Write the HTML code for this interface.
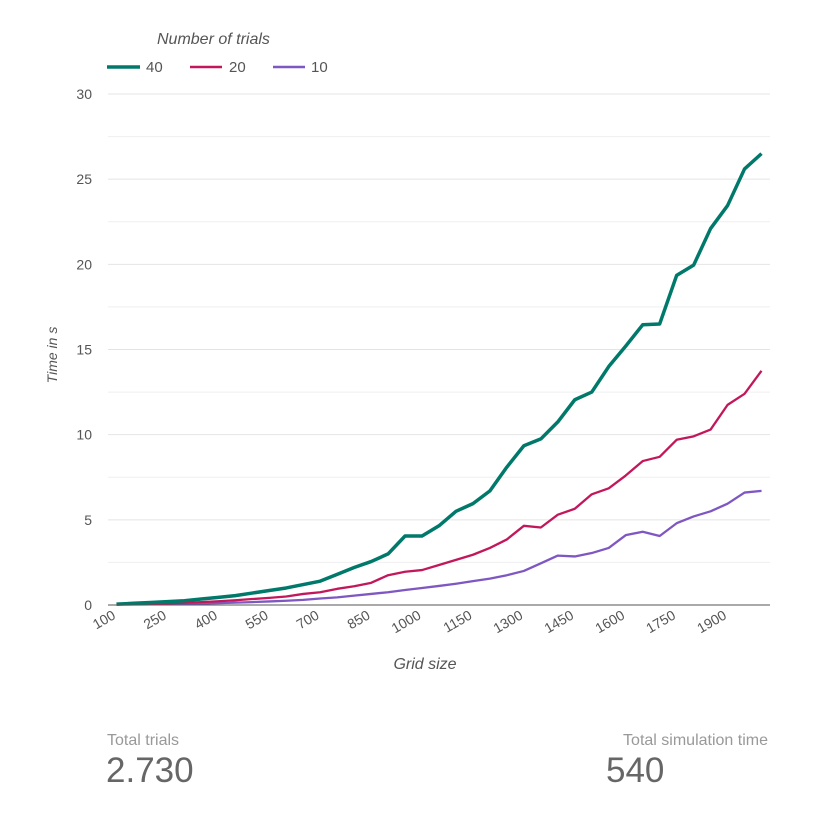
<!DOCTYPE html>
<html><head><meta charset="utf-8">
<style>
body{margin:0;background:#fff;font-family:"Liberation Sans",sans-serif;}
svg{display:block}
</style></head>
<body>
<svg id="chart" width="822" height="823" xmlns="http://www.w3.org/2000/svg">
<text x="157" y="44" font-size="16" font-style="italic" fill="#555">Number of trials</text>
<g><line x1="107" y1="67" x2="140" y2="67" stroke="#00796b" stroke-width="3.5"/><text x="146" y="72" font-size="15" fill="#555">40</text></g>
<g><line x1="190" y1="67" x2="222" y2="67" stroke="#c2185b" stroke-width="2.5"/><text x="229" y="72" font-size="15" fill="#555">20</text></g>
<g><line x1="273" y1="67" x2="305" y2="67" stroke="#7e57c2" stroke-width="2.5"/><text x="311" y="72" font-size="15" fill="#555">10</text></g>
<g id="grid"></g>
<g id="yticks"></g>
<g id="xticks"></g>
<g id="series"></g>
<line x1="108" y1="605" x2="770" y2="605" stroke="#555" stroke-width="1"/>
<text x="425" y="669" font-size="16" font-style="italic" fill="#555" text-anchor="middle">Grid size</text>
<text transform="translate(57,355) rotate(-90)" font-size="14" font-style="italic" fill="#555" text-anchor="middle">Time in s</text>
<text x="107" y="745" font-size="16" fill="#999">Total trials</text>
<text x="106" y="782" font-size="35" fill="#666">2.730</text>
<text x="768" y="745" font-size="16" fill="#999" text-anchor="end">Total simulation time</text>
<text x="606" y="782" font-size="35" fill="#666">540</text>
</svg>
<script>
const categories=[100,150,200,250,300,350,400,450,500,550,600,650,700,750,800,850,900,950,1000,1050,1100,1150,1200,1250,1300,1350,1400,1450,1500,1550,1600,1650,1700,1750,1800,1850,1900,1950,2000];
const series40=[0.05,0.1,0.15,0.2,0.25,0.35,0.45,0.55,0.7,0.85,1.0,1.2,1.4,1.8,2.2,2.55,3.0,4.05,4.05,4.65,5.5,5.95,6.7,8.1,9.35,9.75,10.75,12.05,12.5,14.0,15.2,16.45,16.5,19.35,19.95,22.1,23.45,25.6,26.5];
const series20=[0.03,0.05,0.08,0.1,0.13,0.17,0.22,0.28,0.35,0.42,0.5,0.65,0.75,0.95,1.1,1.3,1.75,1.95,2.05,2.35,2.65,2.95,3.35,3.85,4.65,4.55,5.3,5.65,6.5,6.85,7.6,8.45,8.7,9.7,9.9,10.3,11.75,12.4,13.75];
const series10=[0.02,0.03,0.04,0.05,0.07,0.09,0.11,0.14,0.17,0.21,0.25,0.3,0.38,0.45,0.55,0.65,0.75,0.88,1.0,1.12,1.25,1.4,1.55,1.75,2.0,2.45,2.9,2.85,3.05,3.35,4.1,4.3,4.05,4.8,5.2,5.5,5.95,6.6,6.7];
const yTicks=[0,5,10,15,20,25,30];
const yGrid=[2.5,5,7.5,10,12.5,15,17.5,20,22.5,25,27.5,30];
const xLabelEvery=3;
const NS="http://www.w3.org/2000/svg";
const X0=108,X1=770,Y0=605,Y1=94,YMAX=30;
const bw=(X1-X0)/categories.length;
function xs(i){return X0+bw*(i+0.5);}
function ys(v){return Y0-(v/YMAX)*(Y0-Y1);}
function mk(tag,attrs,parent){const e=document.createElementNS(NS,tag);for(const k in attrs)e.setAttribute(k,attrs[k]);parent.appendChild(e);return e;}
const grid=document.getElementById('grid');
yGrid.forEach(v=>{const l=mk('line',{x1:X0,x2:X1,y1:ys(v),y2:ys(v),stroke:(v%5===0)?'#e4e4e4':'#efefef','stroke-width':1},grid);

});
const yt=document.getElementById('yticks');
yTicks.forEach(v=>{const t=mk('text',{x:92,y:ys(v)+5,'font-size':14,fill:'#555','text-anchor':'end'},yt);t.textContent=v;

});
const xt=document.getElementById('xticks');
categories.forEach((c,i)=>{if(i%xLabelEvery)return;const x=xs(i);const t=mk('text',{transform:`translate(${x},618) rotate(-30)`,'font-size':14,fill:'#555','text-anchor':'end'},xt);t.textContent=c;

});
const sg=document.getElementById('series');
[[series10,'#7e57c2',2.3,'line-10'],[series20,'#c2185b',2.3,'line-20'],[series40,'#00796b',3.5,'line-40']].forEach(([d,col,w,nm])=>{
const p=mk('polyline',{points:d.map((v,i)=>xs(i)+','+ys(v)).join(' '),fill:'none',stroke:col,'stroke-width':w,'stroke-linejoin':'round'},sg);

});
</script>
</body></html>
